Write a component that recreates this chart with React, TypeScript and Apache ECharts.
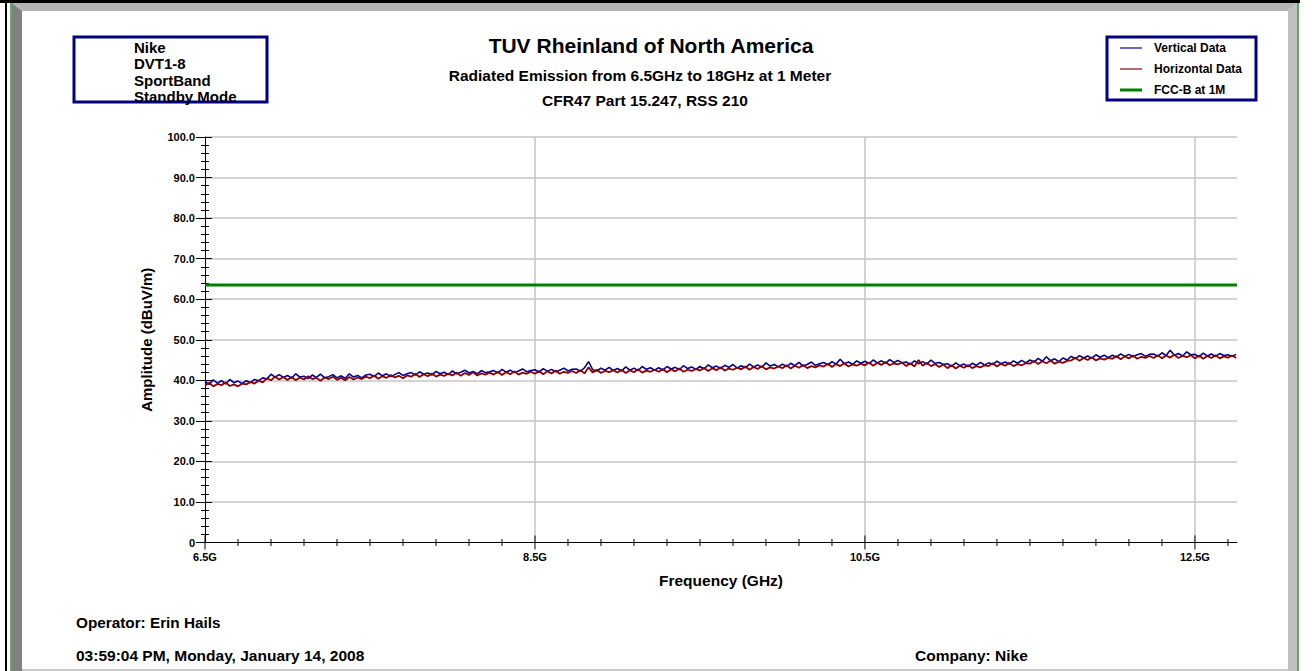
import React, { useEffect, useRef } from "react";
import * as echarts from "echarts";

// ---------------- data ----------------
const FREQ_START = 6.5; // GHz, first sweep point
const FREQ_STEP = 0.025; // GHz between sweep points
const X_MIN = 6.5;
const X_MAX = 12.755;
const X_MAJOR = [6.5, 8.5, 10.5, 12.5];
const X_MINOR = [
  6.7, 6.9, 7.1, 7.3, 7.5, 7.7, 7.9, 8.1, 8.3,
  8.7, 8.9, 9.1, 9.3, 9.5, 9.7, 9.9, 10.1, 10.3,
  10.7, 10.9, 11.1, 11.3, 11.5, 11.7, 11.9, 12.1, 12.3,
  12.7,
];
const Y_MIN = 0;
const Y_MAX = 100;
const Y_STEP = 10;
const LIMIT_LEVEL = 63.5; // FCC-B at 1M

const VERTICAL = [
  39.7, 39.0, 40.1, 39.3, 39.9, 39.1, 40.2, 39.4, 39.8, 39.2,
  39.9, 39.4, 40.2, 39.9, 40.6, 40.3, 41.5, 40.8, 41.4, 40.7,
  41.2, 40.5, 41.6, 40.8, 41.0, 40.4, 41.3, 40.7, 41.5, 40.6,
  40.9, 41.4, 40.6, 41.1, 40.5, 41.6, 40.8, 41.2, 40.6, 41.3,
  41.5, 40.9, 41.8, 41.1, 41.6, 40.9, 41.4, 41.9, 41.2, 41.6,
  41.9, 41.3, 42.1, 41.5, 41.8, 41.3, 42.2, 41.6, 42.0, 41.4,
  42.3, 41.6, 42.0, 42.5, 41.8, 42.2, 41.6, 42.4, 41.9, 42.1,
  42.4, 41.8, 42.7, 42.0, 42.5, 41.9, 42.3, 42.8, 42.1, 42.4,
  42.6, 42.0, 42.9, 42.2, 42.7, 42.1, 42.5, 43.0, 42.3, 42.7,
  42.8, 42.2, 43.1, 44.6, 42.6, 42.3, 43.0, 42.5, 43.2, 42.4,
  42.9, 42.3, 43.3, 42.5, 43.0, 42.4, 43.4, 42.7, 43.1, 42.5,
  43.1, 42.5, 43.4, 42.8, 43.2, 42.6, 43.6, 42.9, 43.3, 42.7,
  43.4, 42.8, 43.8, 43.1, 43.5, 42.9, 43.7, 43.2, 43.9, 43.0,
  43.6, 43.1, 44.0, 43.3, 43.8, 43.2, 44.3, 43.5, 43.9, 43.3,
  44.0, 43.4, 44.2, 43.6, 44.4, 43.5, 43.9, 44.5, 43.7, 44.1,
  44.4, 43.8, 44.6, 44.0, 45.2, 44.1, 44.5, 43.9, 44.8, 44.2,
  44.7, 44.1, 45.0, 44.3, 44.8, 44.2, 45.1, 44.4, 44.9, 44.3,
  44.5, 43.9, 44.8, 44.1, 44.6, 44.0, 45.0, 44.2, 44.4, 43.9,
  44.1, 43.4, 44.3, 43.6, 44.0, 43.4, 44.2, 43.7, 44.4, 43.8,
  44.3, 43.9, 44.7, 44.1, 44.5, 44.0, 44.8, 44.2, 44.9, 44.3,
  45.0, 44.5, 45.4, 44.7, 45.8, 44.8, 45.3, 44.6, 45.5, 45.0,
  45.9, 45.3, 46.1, 45.5, 46.0, 45.4, 46.3, 45.7, 46.2, 45.6,
  46.2, 45.7, 46.5, 45.9, 46.4, 45.8, 46.3, 46.6, 45.9, 46.4,
  46.5, 45.9, 46.8, 46.1, 47.4, 46.2, 46.6, 46.0, 47.0, 46.3,
  46.4, 45.8, 46.7, 46.0, 46.5, 45.9, 46.6, 46.1, 46.3, 45.9,
  46.4,
];

const HORIZONTAL = [
  38.7, 39.4, 38.5, 39.1, 38.8, 39.5, 38.6, 39.0, 38.5, 39.2,
  39.0, 39.6, 39.2, 39.9, 39.5, 40.5, 40.0, 40.9, 40.2, 40.8,
  40.1, 40.8, 40.0, 40.7, 40.2, 41.0, 40.3, 40.6, 39.9, 40.7,
  40.3, 40.9, 40.1, 40.6, 40.0, 40.8, 40.2, 40.7, 40.3, 40.9,
  40.5, 41.2, 40.4, 41.0, 40.6, 41.3, 40.7, 41.1, 40.5, 41.2,
  40.9, 41.6, 40.8, 41.5, 41.0, 41.7, 40.9, 41.4, 41.1, 41.6,
  41.2, 41.9, 41.1, 41.8, 41.3, 42.0, 41.2, 41.7, 41.4, 41.9,
  41.4, 42.1, 41.3, 42.0, 41.5, 42.2, 41.4, 41.9, 41.6, 42.1,
  41.6, 42.3, 41.5, 42.2, 41.7, 42.4, 41.6, 42.1, 41.8, 42.3,
  41.8, 42.5, 41.7, 43.2, 41.9, 42.6, 41.8, 42.3, 42.0, 42.5,
  41.9, 42.6, 41.8, 42.5, 42.0, 42.7, 41.9, 42.4, 42.1, 42.6,
  42.1, 42.8, 42.0, 42.7, 42.2, 42.9, 42.1, 42.6, 42.3, 42.8,
  42.4, 43.1, 42.3, 43.0, 42.5, 43.2, 42.4, 42.9, 42.6, 43.1,
  42.7, 43.4, 42.6, 43.3, 42.8, 43.5, 42.7, 43.2, 42.9, 43.4,
  43.0, 43.7, 42.9, 43.6, 43.1, 43.8, 43.0, 43.5, 43.2, 43.7,
  43.4, 44.1, 43.3, 44.0, 43.5, 44.2, 43.4, 43.9, 43.6, 44.1,
  43.7, 44.4, 43.6, 44.3, 43.8, 44.5, 43.7, 44.2, 43.9, 44.4,
  43.5, 44.2, 43.4, 45.0, 43.6, 44.3, 43.5, 44.0, 43.3, 43.9,
  43.0, 43.7, 42.9, 43.6, 43.1, 43.8, 43.0, 43.5, 43.2, 43.7,
  43.5, 44.2, 43.4, 44.1, 43.6, 44.3, 43.5, 44.0, 43.7, 44.2,
  44.1, 44.8, 44.0, 44.7, 44.2, 44.9, 44.1, 44.6, 44.3, 44.8,
  44.9, 45.6, 44.8, 45.5, 45.0, 45.7, 44.9, 45.4, 45.1, 45.6,
  45.3, 46.0, 45.2, 45.9, 45.4, 46.1, 45.3, 45.8, 45.5, 46.0,
  45.5, 46.2, 45.4, 46.1, 45.6, 46.3, 45.5, 46.0, 45.7, 46.2,
  45.4, 46.1, 45.3, 46.0, 45.5, 46.2, 45.4, 45.9, 45.6, 46.1,
  45.5,
];

const INFO_LINES = ["Nike", "DVT1-8", "SportBand", "Standby Mode"];
const TITLE = "TUV Rheinland of North America";
const SUBTITLE_1 = "Radiated Emission from 6.5GHz to 18GHz at 1 Meter";
const SUBTITLE_2 = "CFR47 Part 15.247, RSS 210";
const OPERATOR = "Operator: Erin Hails";
const DATE_TEXT = "03:59:04 PM, Monday, January 14, 2008";
const COMPANY = "Company: Nike";

const FONT = '"Liberation Sans", Arial, sans-serif';

function toPoints(values: number[]) {
  return values.map((v, i) => [Math.round((FREQ_START + i * FREQ_STEP) * 1000) / 1000, v]);
}

function isMajor(v: number) {
  return X_MAJOR.some((m) => Math.abs(m - v) < 1e-6);
}

export default function App() {
  const ref = useRef<HTMLDivElement>(null);

  useEffect(() => {
    if (!ref.current) return;
    const chart = echarts.init(ref.current, null, { renderer: "svg" });

    const txt = (text: string, x: number, y: number, size: number, align = "left") => ({
      type: "text",
      x,
      y,
      silent: true,
      z: 10,
      style: {
        text,
        font: `bold ${size}px ${FONT}`,
        fill: "#000",
        textAlign: align,
        textVerticalAlign: "middle",
      },
    });

    const option: any = {
      animation: false,
      backgroundColor: "#ffffff",
      grid: { left: 205, right: 77, top: 137, bottom: 128.5, containLabel: false },
      legend: {
        data: [
          { name: "Vertical Data", icon: "path://M0 0H22V1.2H0Z" },
          { name: "Horizontal Data", icon: "path://M0 0H22V1.2H0Z" },
          { name: "FCC-B at 1M", icon: "path://M0 0H22V3H0Z" },
        ],
        orient: "vertical",
        left: 1107,
        top: 37,
        borderColor: "#000080",
        borderWidth: 3,
        borderRadius: 0,
        padding: [5, 14, 4, 13],
        itemWidth: 22,
        itemHeight: 12,
        itemGap: 9,
        symbolKeepAspect: true,
        selectedMode: false,
        textStyle: {
          fontFamily: FONT,
          fontWeight: "bold",
          fontSize: 12,
          color: "#000",
          padding: [0, 0, 0, 7],
        },
      },
      xAxis: {
        type: "value",
        min: X_MIN,
        max: X_MAX,
        interval: 2,
        name: "Frequency (GHz)",
        nameLocation: "middle",
        nameGap: 30,
        nameTextStyle: { fontFamily: FONT, fontWeight: "bold", fontSize: 15.5, color: "#000" },
        axisLine: { show: true, lineStyle: { color: "#000", width: 1 } },
        axisTick: { show: false },
        axisLabel: {
          margin: 9,
          fontFamily: FONT,
          fontWeight: "bold",
          fontSize: 11,
          color: "#000",
          showMaxLabel: false,
          formatter: (v: number) => (isMajor(v) ? `${v}G` : ""),
        },
        splitLine: {
          show: true,
          showMinLine: false,
          showMaxLine: false,
          lineStyle: { color: "#c4c4c4", width: 1.5 },
        },
      },
      yAxis: [
        {
          type: "value",
          position: "left",
          min: Y_MIN,
          max: Y_MAX,
          interval: Y_STEP,
          name: "Amplitude (dBuV/m)",
          nameLocation: "middle",
          nameGap: 51,
          nameTextStyle: { fontFamily: FONT, fontWeight: "bold", fontSize: 15, color: "#000" },
          axisLine: { show: true, lineStyle: { color: "#000", width: 1 } },
          axisTick: { show: true, inside: false, length: 9, lineStyle: { color: "#000" } },
          minorTick: { show: true, splitNumber: 5, length: 4, lineStyle: { color: "#000" } },
          axisLabel: {
            margin: 10,
            fontFamily: FONT,
            fontWeight: "bold",
            fontSize: 11,
            color: "#000",
            formatter: (v: number) => (v === 0 ? "0" : v.toFixed(1)),
          },
          splitLine: {
            show: true,
            showMinLine: false,
            lineStyle: { color: "#c4c4c4", width: 1.5 },
          },
        },
        {
          type: "value",
          position: "left",
          offset: 0,
          min: Y_MIN,
          max: Y_MAX,
          interval: Y_STEP,
          axisLine: { show: false },
          axisTick: { show: true, inside: true, length: 7, lineStyle: { color: "#000" } },
          minorTick: { show: true, splitNumber: 5, length: 4, lineStyle: { color: "#000" } },
          axisLabel: { show: false },
          splitLine: { show: false },
        },
      ],
      series: [
        {
          name: "Vertical Data",
          type: "line",
          data: toPoints(VERTICAL),
          symbol: "none",
          showSymbol: false,
          color: "#000090",
          lineStyle: { color: "#000090", width: 1.6 },
          z: 3,
        },
        {
          name: "Horizontal Data",
          type: "line",
          data: toPoints(HORIZONTAL),
          symbol: "none",
          showSymbol: false,
          color: "#8c0000",
          lineStyle: { color: "#8c0000", width: 1.8 },
          z: 4,
        },
        {
          name: "FCC-B at 1M",
          type: "line",
          data: [
            [X_MIN, LIMIT_LEVEL],
            [X_MAX, LIMIT_LEVEL],
          ],
          symbol: "none",
          showSymbol: false,
          color: "#008000",
          lineStyle: { color: "#008000", width: 3 },
          z: 5,
        },
        {
          name: "x-ticks",
          type: "custom",
          clip: false,
          silent: true,
          z: 6,
          encode: { x: 0, y: 1 },
          data: [
            ...X_MAJOR.map((v) => [v, 0, 1]),
            ...X_MINOR.map((v) => [v, 0, 0]),
          ],
          renderItem: (_params: any, api: any) => {
            const v = api.value(0);
            const major = api.value(2);
            const p = api.coord([v, 0]);
            const h = major ? 7 : 3.5;
            return {
              type: "line",
              shape: { x1: p[0], y1: p[1] - h, x2: p[0], y2: p[1] + h },
              style: { stroke: "#000", lineWidth: 1 },
            };
          },
        },
      ],
      graphic: [
        // page frame
        { type: "rect", silent: true, z: 0, shape: { x: 0, y: 0, width: 1300, height: 3 }, style: { fill: "#000" } },
        { type: "rect", silent: true, z: 0, shape: { x: 5, y: 0, width: 2, height: 671 }, style: { fill: "#000" } },
        { type: "line", silent: true, z: 0, shape: { x1: 11, y1: 3, x2: 11, y2: 671 }, style: { stroke: "#2e8b2e", lineWidth: 1.5 } },
        { type: "polygon", silent: true, z: 0, shape: { points: [[12, 3], [1298, 3], [1288, 11], [22, 11]] }, style: { fill: "#b4b4b4" } },
        { type: "polygon", silent: true, z: 0, shape: { points: [[12, 3], [22, 11], [22, 671], [12, 671]] }, style: { fill: "#808080" } },
        { type: "polygon", silent: true, z: 0, shape: { points: [[1288, 11], [1297, 3], [1297, 671], [1288, 671]] }, style: { fill: "#c0c0c0" } },
        { type: "line", silent: true, z: 0, shape: { x1: 1298, y1: 3, x2: 1298, y2: 671 }, style: { stroke: "#2e8b2e", lineWidth: 1.5 } },
        { type: "line", silent: true, z: 0, shape: { x1: 22, y1: 670, x2: 1288, y2: 670 }, style: { stroke: "#c8c8c8", lineWidth: 2 } },
        // info box
        { type: "rect", silent: true, z: 9, shape: { x: 74, y: 37, width: 193, height: 65 }, style: { fill: "none", stroke: "#000080", lineWidth: 3 } },
        txt(INFO_LINES[0], 134, 47, 15),
        txt(INFO_LINES[1], 134, 63, 15),
        txt(INFO_LINES[2], 134, 80, 15),
        txt(INFO_LINES[3], 134, 96.5, 15),
        // titles
        txt(TITLE, 651, 45, 21, "center"),
        txt(SUBTITLE_1, 640, 75, 15.5, "center"),
        txt(SUBTITLE_2, 645, 100, 15.5, "center"),
        // footer
        txt(OPERATOR, 76, 622, 15.3, "left"),
        txt(DATE_TEXT, 76, 655, 15.5, "left"),
        txt(COMPANY, 915, 655, 15.5, "left"),
      ],
    };

    chart.setOption(option);
    return () => chart.dispose();
  }, []);

  return (
    <div
      ref={ref}
      style={{ position: "fixed", left: 0, top: 0, width: 1314, height: 671 }}
    />
  );
}
